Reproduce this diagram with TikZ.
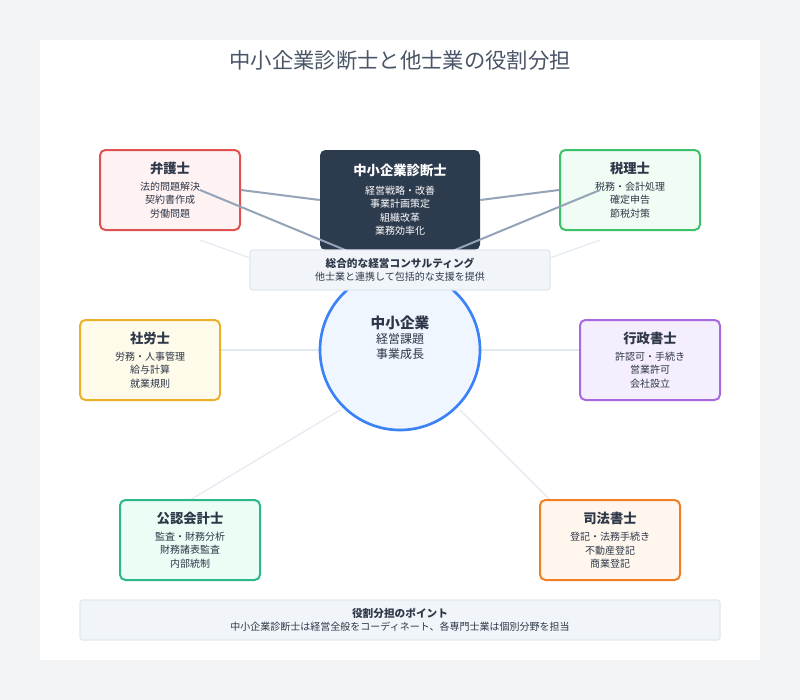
\documentclass[tikz,border=0pt]{standalone}
\usepackage{fontspec}
\setmainfont{Noto Sans CJK JP}
\definecolor{pagebg}{HTML}{F3F4F6}
\definecolor{ink}{HTML}{2D3748}
\definecolor{sub}{HTML}{4A5568}
\definecolor{navy}{HTML}{2D3B4E}
\definecolor{link}{HTML}{94A3B8}
\definecolor{faint}{HTML}{E2E8F0}
\definecolor{redline}{HTML}{E05252}
\definecolor{redfill}{HTML}{FEF2F2}
\definecolor{greenline}{HTML}{3CC06A}
\definecolor{greenfill}{HTML}{F0FDF4}
\definecolor{yelline}{HTML}{EAB02A}
\definecolor{yelfill}{HTML}{FFFBEB}
\definecolor{purline}{HTML}{A868E0}
\definecolor{purfill}{HTML}{F5EEFF}
\definecolor{tealline}{HTML}{2DB889}
\definecolor{tealfill}{HTML}{ECFDF5}
\definecolor{oraline}{HTML}{F07F22}
\definecolor{orafill}{HTML}{FFF7ED}
\definecolor{circline}{HTML}{3B82F6}
\definecolor{circfill}{HTML}{EFF6FF}
\definecolor{notefill}{HTML}{F1F5F9}
\tikzset{
  role/.style={draw, line width=1.5pt, rounded corners=4pt, minimum width=105pt, minimum height=60pt, align=center, text=ink, font=\fontsize{7.5}{10}\selectfont},
  note/.style={draw=faint, fill=notefill, line width=0.8pt, rounded corners=2pt, align=center, text=ink, font=\fontsize{7.5}{10}\selectfont},
  tie/.style={draw=link, line width=1.5pt},
  hint/.style={draw=faint, line width=0.8pt}
}
\begin{document}
\begin{tikzpicture}[x=0.75pt,y=-0.75pt]
    % Canvas
    \fill[pagebg] (0,0) rectangle (800,700);
    \fill[white] (40,40) rectangle (760,660);
    \node[text=sub, font=\fontsize{16}{18}\selectfont] (title) at (400,60) {中小企業診断士と他士業の役割分担};

    % Faint links
    \draw[hint] (200,240) -- (250,258);
    \draw[hint] (600,240) -- (550,258);
    \draw[hint] (220,350) -- (320,350);
    \draw[hint] (480,350) -- (580,350);
    \draw[hint] (340,410) -- (190,500);
    \draw[hint] (460,410) -- (550,500);

    % Specialist boxes
    \node[role, draw=redline, fill=redfill] (lawyer) at (170,190)
      {\textbf{\fontsize{10}{12}\selectfont 弁護士}\\[3pt]法的問題解決\\契約書作成\\労働問題};
    \node[role, draw=greenline, fill=greenfill] (tax) at (630,190)
      {\textbf{\fontsize{10}{12}\selectfont 税理士}\\[3pt]税務・会計処理\\確定申告\\節税対策};
    \node[role, draw=yelline, fill=yelfill] (labor) at (150,360)
      {\textbf{\fontsize{10}{12}\selectfont 社労士}\\[3pt]労務・人事管理\\給与計算\\就業規則};
    \node[role, draw=purline, fill=purfill] (admin) at (650,360)
      {\textbf{\fontsize{10}{12}\selectfont 行政書士}\\[3pt]許認可・手続き\\営業許可\\会社設立};
    \node[role, draw=tealline, fill=tealfill] (cpa) at (190,540)
      {\textbf{\fontsize{10}{12}\selectfont 公認会計士}\\[3pt]監査・財務分析\\財務諸表監査\\内部統制};
    \node[role, draw=oraline, fill=orafill] (scrivener) at (610,540)
      {\textbf{\fontsize{10}{12}\selectfont 司法書士}\\[3pt]登記・法務手続き\\不動産登記\\商業登記};

    % Client circle
    \node[circle, draw=circline, fill=circfill, line width=2pt, minimum size=120pt, align=center, text=ink, font=\fontsize{9}{11}\selectfont] (sme) at (400,350)
      {\textbf{\fontsize{11}{13}\selectfont 中小企業}\\経営課題\\事業成長\\[8pt]};

    % Consultant
    \node[fill=navy, rounded corners=4pt, minimum width=120pt, minimum height=75pt, align=center, text=white, font=\fontsize{7.5}{10}\selectfont] (consultant) at (400,200)
      {\textbf{\fontsize{10}{12}\selectfont 中小企業診断士}\\[4pt]経営戦略・改善\\事業計画策定\\組織改革\\業務効率化};
    \draw[tie] (lawyer.east) -- (consultant.west);
    \draw[tie] (consultant.east) -- (tax.west);
    \draw[tie] (200,190) -- (350,252);
    \draw[tie] (600,190) -- (450,252);

    % Notes
    \node[note, minimum width=225pt, minimum height=30pt] (scope) at (400,270)
      {\textbf{\fontsize{8}{10}\selectfont 総合的な経営コンサルティング}\\他士業と連携して包括的な支援を提供};
    \node[note, minimum width=480pt, minimum height=30pt] (points) at (400,620)
      {\textbf{\fontsize{8}{10}\selectfont 役割分担のポイント}\\中小企業診断士は経営全般をコーディネート、各専門士業は個別分野を担当};
\end{tikzpicture}
\end{document}
